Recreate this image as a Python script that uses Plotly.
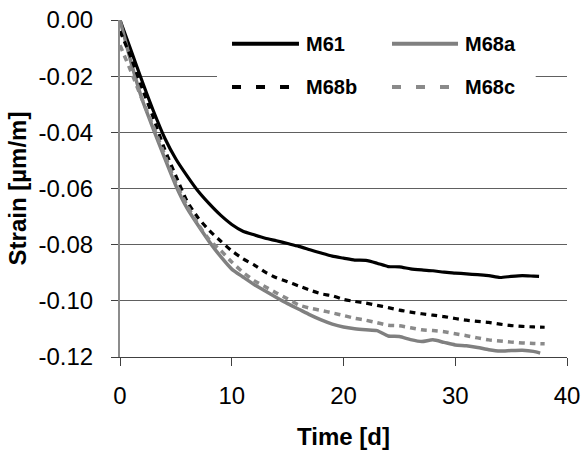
import plotly.graph_objects as go

# ---- data ----
t_m61 = list(range(0, 38)) + [37.5]
m61 = [0, -0.011, -0.022, -0.0325, -0.042, -0.0495, -0.0555, -0.061, -0.0655, -0.0695,
       -0.0728, -0.0752, -0.0765, -0.0777, -0.0786, -0.0796, -0.0806, -0.0818, -0.083, -0.0841,
       -0.0848, -0.0855, -0.0856, -0.0866, -0.0878, -0.0879, -0.0886, -0.089, -0.0893, -0.0898,
       -0.0901, -0.0904, -0.0907, -0.091, -0.0917, -0.0913, -0.0910, -0.0912, -0.0913]

t_m68a = list(range(0, 38)) + [37.6]
m68a = [0, -0.0152, -0.0285, -0.039, -0.0492, -0.059, -0.067, -0.0732, -0.079, -0.0842,
        -0.0887, -0.0915, -0.0942, -0.0965, -0.0988, -0.101, -0.103, -0.105, -0.1068, -0.1083,
        -0.1093, -0.1099, -0.1103, -0.1106, -0.1125, -0.1127, -0.1138, -0.1145, -0.1139, -0.1148,
        -0.1157, -0.116, -0.1166, -0.1174, -0.1179, -0.1177, -0.1176, -0.118, -0.1186]

t_m68b = list(range(0, 39))
m68b = [-0.004, -0.0135, -0.0245, -0.035, -0.046, -0.0555, -0.0645, -0.0705, -0.075, -0.0787,
        -0.0822, -0.085, -0.0872, -0.0898, -0.0918, -0.0932, -0.0947, -0.0962, -0.0975, -0.0982,
        -0.0995, -0.1002, -0.1008, -0.1016, -0.1024, -0.1033, -0.104, -0.1046, -0.1051, -0.1056,
        -0.1063, -0.1069, -0.1073, -0.1077, -0.1083, -0.1088, -0.1091, -0.1093, -0.1094]

t_m68c = list(range(0, 39))
m68c = [-0.009, -0.0185, -0.0285, -0.038, -0.048, -0.058, -0.066, -0.0728, -0.0783, -0.082,
        -0.0862, -0.0898, -0.0928, -0.095, -0.0972, -0.0993, -0.1015, -0.1026, -0.1034, -0.1043,
        -0.1052, -0.1062, -0.1069, -0.1078, -0.1087, -0.1089, -0.1096, -0.1103, -0.1106, -0.111,
        -0.1117, -0.1124, -0.1132, -0.1139, -0.1143, -0.1147, -0.115, -0.1152, -0.1153]

x_ticks = [0, 10, 20, 30, 40]
x_ticktext = ["0", "10", "20", "30", "40"]
y_ticks = [0, -0.02, -0.04, -0.06, -0.08, -0.10, -0.12]
y_ticktext = ["0.00", "-0.02", "-0.04", "-0.06", "-0.08", "-0.10", "-0.12"]

series = [
    ("M61", t_m61, m61, "#000000", "solid", 3.2),
    ("M68a", t_m68a, m68a, "#808080", "solid", 3.5),
    ("M68b", t_m68b, m68b, "#000000", "6px,5px", 3.2),
    ("M68c", t_m68c, m68c, "#8a8a8a", "6px,5px", 3.5),
]

FONT = "Liberation Sans, Arial, sans-serif"

fig = go.Figure()
for name, tx, vy, col, dash, w in series:
    fig.add_trace(go.Scatter(x=tx, y=vy, mode="lines", name=name, showlegend=False,
                             line=dict(color=col, dash=dash, width=w, shape="spline", smoothing=0.6)))

# ---- manual legend (Excel-like, two columns) ----
shapes = [dict(type="rect", xref="paper", yref="paper", x0=0.217, x1=0.93, y0=0.69, y1=0.97,
               fillcolor="white", line=dict(width=0), layer="above")]
annotations = []
leg_pos = [(0.2506, 0.4004, 0.4116, 0.9297), (0.6085, 0.7562, 0.7673, 0.9297),
           (0.2506, 0.4004, 0.4116, 0.8012), (0.6085, 0.7562, 0.7673, 0.8012)]
leg_dash = {"solid": "solid", "6px,5px": "9px,15px"}
for (name, tx, vy, col, dash, w), (lx0, lx1, tx0, ly) in zip(series, leg_pos):
    shapes.append(dict(type="line", xref="paper", yref="paper", x0=lx0, x1=lx1, y0=ly, y1=ly,
                       line=dict(color=col, width=4, dash=leg_dash[dash]), layer="above"))
    annotations.append(dict(xref="paper", yref="paper", x=tx0, y=ly, text=name, showarrow=False,
                            xanchor="left", yanchor="middle",
                            font=dict(family=FONT, size=20, color="black", weight="bold")))

fig.update_layout(
    width=583, height=450,
    margin=dict(l=120, r=16, t=20, b=93, autoexpand=False),
    paper_bgcolor="white", plot_bgcolor="white",
    font=dict(family=FONT, color="black"),
    shapes=shapes, annotations=annotations,
    showlegend=False,
)
fig.update_xaxes(
    automargin=False, ticklabeloverflow="allow",
    range=[0, 40], tickvals=x_ticks, ticktext=x_ticktext,
    showgrid=False, zeroline=False,
    showline=True, linecolor="#404040", linewidth=1,
    ticks="outside", ticklen=8, tickcolor="#404040", tickwidth=1,
    tickfont=dict(family=FONT, size=24, color="black"),
    ticklabelstandoff=9,
    title=dict(text="Time [d]", standoff=20,
               font=dict(family=FONT, size=24, color="black", weight="bold")),
)
fig.update_yaxes(
    automargin=False, ticklabeloverflow="allow",
    range=[-0.12, 0], tickvals=y_ticks, ticktext=y_ticktext,
    showgrid=True, gridcolor="#606060", gridwidth=1, zeroline=False,
    showline=True, linecolor="#8c8c8c", linewidth=2,
    ticks="outside", ticklen=7, tickcolor="#404040", tickwidth=1,
    tickfont=dict(family=FONT, size=24, color="black"),
    ticklabelstandoff=13,
    title=dict(text="Strain [µm/m]", standoff=5,
               font=dict(family=FONT, size=24, color="black", weight="bold")),
)

fig.write_html("out.html", config={"displayModeBar": False},
               post_script="document.body.style.margin='0px';")
